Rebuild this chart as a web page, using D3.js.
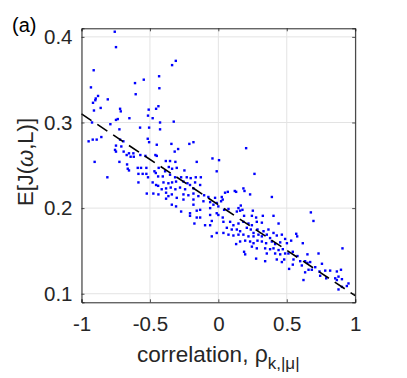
<!DOCTYPE html>
<html><head><meta charset="utf-8">
<script src="https://cdn.jsdelivr.net/npm/d3@7"></script>
<style>html,body{margin:0;padding:0;background:#fff;}svg{display:block;font-family:"Liberation Sans",Arial,Helvetica,sans-serif;}</style>
</head><body><div id="chart"></div>
<script>
const rho = [
-0.757,-0.748,-0.911,-0.609,-0.545,-0.931,-0.604,-0.879,-0.896,-0.899,-0.808,-0.916,-0.860,-0.909,-0.718,-0.713,-0.509,-0.514,-0.735,-0.748,
-0.650,-0.923,-0.789,-0.572,-0.506,-0.723,-0.855,-0.918,-0.948,-0.889,-0.718,-0.694,-0.516,-0.506,-0.748,-0.709,-0.755,-0.748,-0.692,-0.653,
-0.621,-0.670,-0.641,-0.618,-0.570,-0.533,-0.904,-0.723,-0.667,-0.662,-0.653,-0.589,-0.565,-0.526,-0.584,-0.553,-0.526,-0.514,-0.811,-0.584,
-0.523,
-0.311,-0.338,-0.433,-0.431,-0.438,-0.455,-0.480,-0.426,-0.326,-0.426,
-0.450,-0.343,-0.212,-0.182,-0.294,-0.319,-0.460,-0.450,-0.384,-0.353,-0.314,-0.158,-0.043,0.005,-0.436,-0.362,-0.338,-0.304,-0.248,-0.467,
-0.457,-0.389,-0.012,-0.440,-0.406,-0.353,-0.316,-0.272,-0.231,-0.202,-0.165,-0.128,-0.480,-0.455,-0.440,-0.401,-0.365,-0.338,-0.309,-0.255,
-0.226,-0.207,-0.170,-0.133,-0.414,-0.382,-0.348,-0.314,-0.280,-0.243,-0.182,-0.475,-0.438,-0.382,-0.365,-0.340,-0.304,-0.255,-0.219,-0.182,
-0.146,-0.104,-0.073,-0.024,-0.382,-0.255,-0.182,-0.109,-0.060,-0.012,-0.340,-0.309,-0.182,-0.036,0.000,-0.272,-0.207,-0.158,-0.133,-0.060,
-0.012,-0.207,-0.158,-0.133,-0.060,0.000,-0.048,-0.175,-0.097,-0.060,-0.012,-0.048,
0.203,0.264,0.391,0.183,0.191,0.232,0.120,0.130,0.049,0.069,0.025,0.020,0.032,0.164,0.147,0.159,0.176,0.135,0.074,0.042,
0.252,0.403,0.325,0.276,0.245,0.188,0.032,
0.037,0.086,0.110,0.147,0.183,0.220,0.245,0.281,0.318,0.440,0.062,0.098,0.037,0.135,0.159,0.208,0.237,0.257,0.286,0.330,
0.366,0.403,0.074,0.110,0.147,0.183,0.220,0.257,0.293,0.318,0.354,0.378,0.427,0.464,0.488,0.130,0.159,0.196,0.232,0.257,
0.286,0.318,0.349,0.391,0.415,0.452,0.501,0.245,0.281,0.342,0.378,0.403,0.440,0.471,0.512,0.188,0.196,0.354,0.415,0.452,
0.488,0.276,0.342,0.427,0.464,0.481,0.517,
0.676,0.695,0.569,0.576,0.532,0.617,0.907,0.544,0.578,0.732,0.651,0.549,0.598,0.634,0.651,0.671,0.544,0.610,0.757,0.708,
0.659,0.683,0.739,0.781,0.817,0.866,0.896,0.634,0.744,0.788,0.854,0.878,0.903,0.866,0.622,0.951,0.939,0.903,0.878
];
const ej = [
0.406,0.388,0.361,0.346,0.350,0.341,0.333,0.331,0.328,0.326,0.327,0.323,0.317,0.314,0.316,0.313,0.315,0.308,0.304,0.303,
0.305,0.300,0.298,0.294,0.294,0.292,0.283,0.280,0.278,0.280,0.280,0.278,0.281,0.277,0.273,0.272,0.268,0.266,0.266,0.264,
0.264,0.262,0.260,0.260,0.262,0.261,0.254,0.254,0.251,0.246,0.244,0.247,0.247,0.247,0.240,0.240,0.240,0.236,0.236,0.230,
0.217,
0.372,0.367,0.354,0.340,0.319,0.316,0.305,0.300,0.301,0.292,
0.274,0.275,0.275,0.277,0.269,0.266,0.262,0.261,0.255,0.255,0.254,0.254,0.258,0.256,0.247,0.248,0.246,0.247,0.244,0.243,
0.241,0.243,0.243,0.237,0.237,0.239,0.236,0.236,0.236,0.235,0.236,0.236,0.230,0.227,0.226,0.230,0.229,0.230,0.231,0.231,
0.229,0.227,0.230,0.227,0.222,0.223,0.224,0.222,0.224,0.222,0.223,0.217,0.216,0.218,0.214,0.216,0.212,0.216,0.215,0.217,
0.214,0.215,0.213,0.212,0.211,0.210,0.210,0.208,0.207,0.206,0.204,0.202,0.204,0.204,0.202,0.196,0.194,0.197,0.198,0.200,
0.194,0.191,0.189,0.189,0.192,0.192,0.185,0.182,0.180,0.180,0.171,0.167,
0.270,0.240,0.213,0.223,0.220,0.216,0.220,0.219,0.218,0.219,0.213,0.208,0.210,0.203,0.200,0.197,0.198,0.196,0.199,0.198,
0.197,0.191,0.191,0.189,0.191,0.191,0.189,
0.184,0.184,0.180,0.182,0.184,0.182,0.180,0.184,0.183,0.182,0.177,0.175,0.171,0.175,0.173,0.177,0.175,0.171,0.175,0.173,
0.175,0.171,0.169,0.168,0.169,0.169,0.167,0.167,0.169,0.167,0.169,0.165,0.168,0.169,0.164,0.158,0.161,0.162,0.161,0.159,
0.162,0.161,0.159,0.161,0.158,0.160,0.159,0.155,0.153,0.153,0.152,0.153,0.151,0.152,0.147,0.149,0.146,0.147,0.147,0.146,
0.147,0.141,0.138,0.140,0.137,0.140,0.129,
0.195,0.185,0.170,0.167,0.162,0.159,0.153,0.149,0.144,0.147,0.146,0.140,0.138,0.138,0.136,0.137,0.134,0.133,0.135,0.131,
0.128,0.128,0.126,0.127,0.127,0.126,0.128,0.125,0.121,0.118,0.118,0.120,0.117,0.116,0.116,0.112,0.109,0.108,0.105
];
const fitX = [-1, 1];
const fitY = [0.310, 0.0977];
const xTicks = [-1, -0.5, 0, 0.5, 1];
const yTicks = [0.1, 0.2, 0.3, 0.4];

const W = 407, H = 378;
const L = 81.5, R = 355.2, T = 28.3, B = 302.3;
const svg = d3.select("#chart").append("svg").attr("width", W).attr("height", H);
const x = d3.scaleLinear().domain([-1, 1]).range([L, R]);
const y = d3.scaleLinear().domain([0.09, 0.41]).range([B, T]);
const axisCol = "#262626";

const g = svg.append("g");
g.selectAll("line.vg").data(xTicks).join("line")
  .attr("x1", d => x(d)).attr("x2", d => x(d)).attr("y1", T).attr("y2", B)
  .attr("stroke", "#e3e3e3").attr("stroke-width", 1);
g.selectAll("line.hg").data(yTicks).join("line")
  .attr("y1", d => y(d)).attr("y2", d => y(d)).attr("x1", L).attr("x2", R)
  .attr("stroke", "#e3e3e3").attr("stroke-width", 1);

const pts = rho.map((r, i) => [r, ej[i]]);
svg.append("g").selectAll("rect").data(pts).join("rect")
  .attr("x", d => x(d[0]) - 1.2).attr("y", d => y(d[1]) - 1.2)
  .attr("width", 2.4).attr("height", 2.4).attr("fill", "#0000ff");

svg.append("line")
  .attr("x1", x(fitX[0])).attr("y1", y(fitY[0])).attr("x2", x(fitX[1])).attr("y2", y(fitY[1]))
  .attr("stroke", "#000").attr("stroke-width", 1.6).attr("stroke-dasharray", "12,7");

const xb = svg.append("g").attr("transform", `translate(0,${B})`)
  .call(d3.axisBottom(x).tickValues(xTicks).tickSize(-3).tickPadding(14).tickFormat(d => String(d)));
const xt = svg.append("g").attr("transform", `translate(0,${T})`)
  .call(d3.axisTop(x).tickValues(xTicks).tickSize(-3).tickFormat(""));
const yl = svg.append("g").attr("transform", `translate(${L},0)`)
  .call(d3.axisLeft(y).tickValues(yTicks).tickSize(-3).tickPadding(9).tickFormat(d => String(d)));
const yr = svg.append("g").attr("transform", `translate(${R},0)`)
  .call(d3.axisRight(y).tickValues(yTicks).tickSize(-3).tickFormat(""));
[xb, xt, yl, yr].forEach(a => {
  a.select(".domain").attr("stroke", axisCol).attr("stroke-width", 1);
  a.selectAll(".tick line").attr("stroke", axisCol).attr("stroke-width", 0.8);
  a.selectAll("text").attr("fill", "#262626").style("font-size", "20.5px").style("font-family", "Liberation Sans, Arial, sans-serif");
});

const xl = svg.append("text").attr("x", (L + R) / 2).attr("y", 362).attr("text-anchor", "middle")
  .attr("fill", "#262626").style("font-size", "22.5px");
xl.append("tspan").text("correlation,  ");
xl.append("tspan").text("ρ").style("font-size", "23px");
xl.append("tspan").text("k,|μ|").attr("dy", 7).style("font-size", "17px");

const ylab = svg.append("text").attr("transform", `translate(33,162) rotate(-90)`)
  .attr("text-anchor", "middle").attr("fill", "#262626").style("font-size", "22px");
ylab.append("tspan").text("E[J(");
ylab.append("tspan").text("ω").style("font-style", "italic");
ylab.append("tspan").text(",L)]");

svg.append("text").attr("x", 12).attr("y", 32).attr("fill", "#000").style("font-size", "20px").text("(a)");
</script></body></html>
